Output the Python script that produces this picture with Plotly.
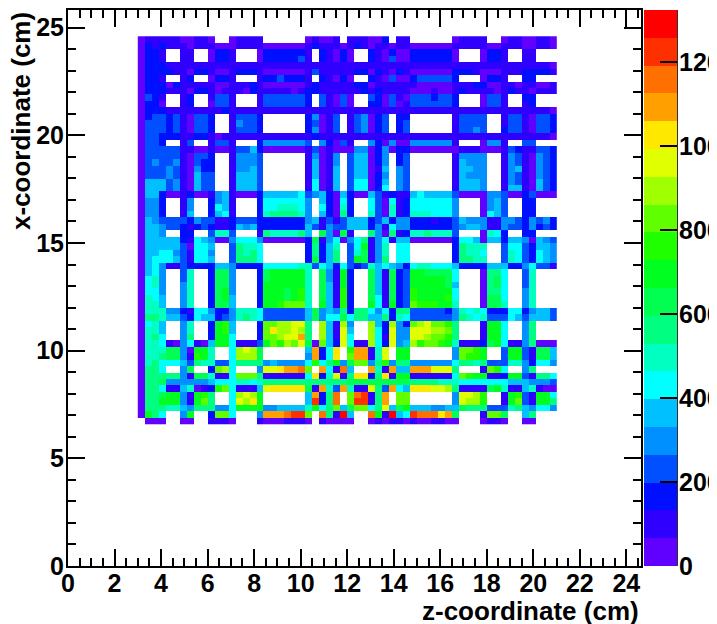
import plotly.graph_objects as go

# Each row lists one band of the colour scale per cell ('.' = empty bin), from the top row down.
CODES = "0123456789abcdefghij"
band_width = 66.25
band_colors = ["#6000ff", "#3000ff", "#0010ff", "#0050ff", "#0090ff", "#00c0ff", "#00ffff", "#00ffc0",
               "#00ff80", "#00ff50", "#00ff20", "#20ff00", "#60ff00", "#a0ff00", "#e0ff00", "#ffe800",
               "#ffa000", "#ff7000", "#ff3000", "#ff0000"]
rows = [
"0111110011 0..01111.. ....01001. 111002.11. .....01111 ..01100110",
"0212111011 1000111100 0000121110 1210110110 0000011111 0011100110",
"0221..11.. 0221...022 22221.2102 0..2102002 222220...0 221..11...",
"0221..11.. 0221...022 22231.2102 0..2103002 222220...0 221..11...",
"0222111111 1111111111 1111111111 1111111111 1111111111 1111111110",
"0222211022 1001222100 0000131111 1220210210 0000022210 0011122221",
"0221..12.. 0221...122 32221.2102 0..2103002 333332...0 221..22...",
"0222021111 1001112100 0000121111 1220111111 0000011122 0011011001",
"0222111022 1011102111 1101221111 1121211110 0010012111 1012110111",
"0321..12.. 1331...133 33332.3103 0..3203103 332332...0 331..22...",
"0220..12.. 0331...133 33332.3103 0..2203013 333332...0 331..12...",
"0222111111 1121111111 1111111111 1111111111 1111111111 1111111110",
"0233231033 2..13332.. ....24013. 134023.22. .....13333 ..13310332",
"0333231033 2..14332.. ....23013. 134023.23. .....13333 ..13310332",
"0333231033 2..13332.. ....24013. 134023.23. .....13343 ..23310332",
"0332221122 1011111111 1111121111 1111111111 1111111111 1111111110",
"0332..13.. 1331...244 44443.4203 1..4204004 444441...0 441..33...",
"0333331100 1001335200 0000130100 0440240220 0000001110 0013211332",
"0333331033 2..14443.. ....14014. 355024.23. .....14444 ..14310432",
"0343341032 2..14443.. ....15014. 355024.23. .....15444 ..14310432",
"0333431042 2..14453.. ....15015. 355015.43. .....15544 ..14510432",
"0333431053 3..15553.. ....15015. 355024.43. .....15444 ..14310432",
"0555341053 3..15553.. ....16015. 366025.43. .....15554 ..14310532",
"0555341053 3..15553.. ....16015. 366026.43. .....15554 ..15510532",
"0552001200 1451000255 5556345205 2005312115 6555530000 4430023000",
"0442..14.. 2451...266 66664.5206 2..6306126 666664...0 453..22...",
"0442..14.. 2651...266 77764.6207 2..6307126 666664...0 453..22...",
"0442..15.. 2561...278 88874.5208 2..7307127 776664...0 653..22...",
"0543333243 3112333222 2222451313 5552352442 2212235444 1144324342",
"0554332123 2112545222 2222531433 5552416442 2222234554 1143324232",
"0554..22.. 3773...187 77785.9409 1..8408127 787773...0 762..22...",
"0555552165 4004666400 0000291460 4681461550 0000026650 5525540543",
"0555553066 5..38776.. ....28257. 36a147.66. .....28777 ..36632554",
"0556643166 4..38786.. ....28258. 379147.66. .....28776 ..37632654",
"0566653166 5..38886.. ....29258. 3a9148.66. .....28877 ..37632654",
"0564113222 2554222266 6667736526 3237565426 7766652222 5552246331",
"0564..37.. 2994...29a aaaa7.941a 2..951923a a99996...0 886..37...",
"0674..37.. 2994...29a aaaa7.941a 2..951923a aaaa96...0 896..37...",
"0674..47.. 2994...2aa aaaa7.951a 2..951923a aaaa95...0 896..37...",
"0664..47.. 29a4...2aa a9ab7.951b 2..951923b aaaaa6...0 886..47...",
"0765..47.. 29a5...2aa a9ab7.951b 2..961923b aaaab6...0 996..47...",
"0775..47.. 2995...2aa bccc7.a51b 2..a61a23c bbbaa7...0 997..47...",
"0777442166 4224777633 3333594548 2886462883 3333247676 2226624553",
"0887553265 5234787633 3333594669 6885582763 3333348767 3336535553",
"0675..47.. 2ab5...2cc ddee8.d51d 4..d52d42c deccb8...1 aa6..48...",
"0775..47.. 2ab5...2cf dded8.d51e 5..d62e44e eeddc8...1 aa6..48...",
"0786..48.. 2aa6...2cc deeg8.d51e 6..d61e44e edccb8...1 aa6..48...",
"0776104610 5aa61113ac bdce90c52e 611d62e45d bccba71112 9a61148000",
"07779940aa 7..6ded9.. ....5g26f. bgg17e.aa. .....4ccba ..3aa31995",
"07789941ba 7..6ddd9.. ....4g26f. cgg17e.aa. .....4cbba ..3aa31995",
"0786665387 7336888845 44446b68a4 9cc48b4884 4444468878 3337742664",
"0886..49.. 2cd6...4ee fgghc.g61h 5..g71g55g ggeee8...1 cb6..48...",
"0888884199 7116ccc811 11116f27e1 8ff28f1aa1 111116cbaa 112aa31886",
"0889444444 5666776788 8888888888 9999999998 8887776666 6665554443",
"0886115701 2bc61115ef ffff91g73g 711e83g65f ffeed81111 9a71157100",
"0889aa41ab 8..6deda.. ....5g28h. chi18g.cc. .....4eedb ..1ab31aa6",
"088aaa41ac 8..6edfa.. ....5i28h. cii18g.cc. .....4eddb ..1ac31aa8",
"0888775488 8446aaaa44 55557a68c5 9cc68e59a5 5544559888 3337854664",
"0a86..4a.. 2cc6...4gg ghiic.h81j 5..ha1j56i hhhfg9...1 cc9..58...",
".000..00.. 1110...100 01110.1000 0..0101101 001100...0 110..00...",
]
z_bins_start, x_bins_start, bin_size = 3.0, 6.6, 0.3
colorbar_ticks = [0, 200, 400, 600, 800, 1000, 1200]
x_ticks = list(range(0, 25, 2))
y_ticks = [0, 5, 10, 15, 20, 25]

cells = []
for row in reversed(rows):
    codes = row.replace(" ", "")
    assert len(codes) == 60, row
    cells.append([None if c == "." else (CODES.index(c) + 0.5) * band_width for c in codes])

n = len(band_colors)
scale = []
for i, col in enumerate(band_colors):
    scale += [[i / n, col], [(i + 1) / n, col]]

FONT = "Liberation Sans, Arial, sans-serif"
label_font = dict(family=FONT, size=25, color="black", weight="bold")
fig = go.Figure(go.Heatmap(
    z=cells, x0=z_bins_start + bin_size / 2, dx=bin_size, y0=x_bins_start + bin_size / 2, dy=bin_size,
    colorscale=scale, zmin=0, zmax=n * band_width, hoverongaps=False,
    colorbar=dict(thickness=33, thicknessmode="pixels", len=1, lenmode="fraction", x=1.0045, xanchor="left",
                  xpad=0, ypad=0, y=0, yanchor="bottom", outlinewidth=0, tickmode="array",
                  tickvals=colorbar_ticks, ticks="inside", ticklen=17, tickwidth=2, tickcolor="black",
                  showticklabels=False),
))
axis_common = dict(showgrid=False, zeroline=False, showline=True, linecolor="black", linewidth=2,
                   mirror="allticks", ticks="inside", ticklen=17, tickwidth=2, tickcolor="black",
                   tickfont=label_font)
fig.update_xaxes(range=[0, 24.63], tickmode="array", tickvals=x_ticks, ticklabelstandoff=-6,
                 minor=dict(dtick=0.5, tick0=0, ticks="inside", ticklen=8, tickwidth=2, tickcolor="black"),
                 **axis_common)
fig.update_yaxes(range=[0, 25.82], tickmode="array", tickvals=y_ticks, ticklabelstandoff=-3,
                 minor=dict(dtick=1, tick0=0, ticks="inside", ticklen=8, tickwidth=2, tickcolor="black"),
                 **axis_common)
title_font = dict(family=FONT, size=26, color="black", weight="bold")
cbar_labels = [dict(text=str(v), xref="paper", yref="paper", x=1.0665, y=v / (n * band_width), xanchor="left",
                    yanchor="middle", showarrow=False, font=label_font, borderpad=0, borderwidth=0)
               for v in colorbar_ticks]
fig.update_layout(
    width=709, height=616, autosize=False, paper_bgcolor="white", plot_bgcolor="white",
    margin=dict(l=60, r=76, t=2, b=58, autoexpand=False),
    shapes=[dict(type="line", xref="paper", yref="paper", x0=1.0625, x1=1.0625, y0=0, y1=1,
                 line=dict(color="black", width=2))],
    annotations=cbar_labels + [
        dict(text="z-coordinate (cm)", xref="paper", yref="paper", x=1, y=0, xanchor="right", yanchor="top",
             yshift=-28, xshift=0, showarrow=False, font=title_font),
        dict(text="x-coordinate (cm)", xref="paper", yref="paper", x=0, y=1, xanchor="center", yanchor="top",
             xshift=-47, showarrow=False, textangle=-90, font=title_font),
        dict(text="-", xref="paper", yref="paper", x=1.134, y=0.872, showarrow=False,
             font=dict(family=FONT, size=16, color="black", weight="bold")),
    ],
)
fig.write_html("out.html")
